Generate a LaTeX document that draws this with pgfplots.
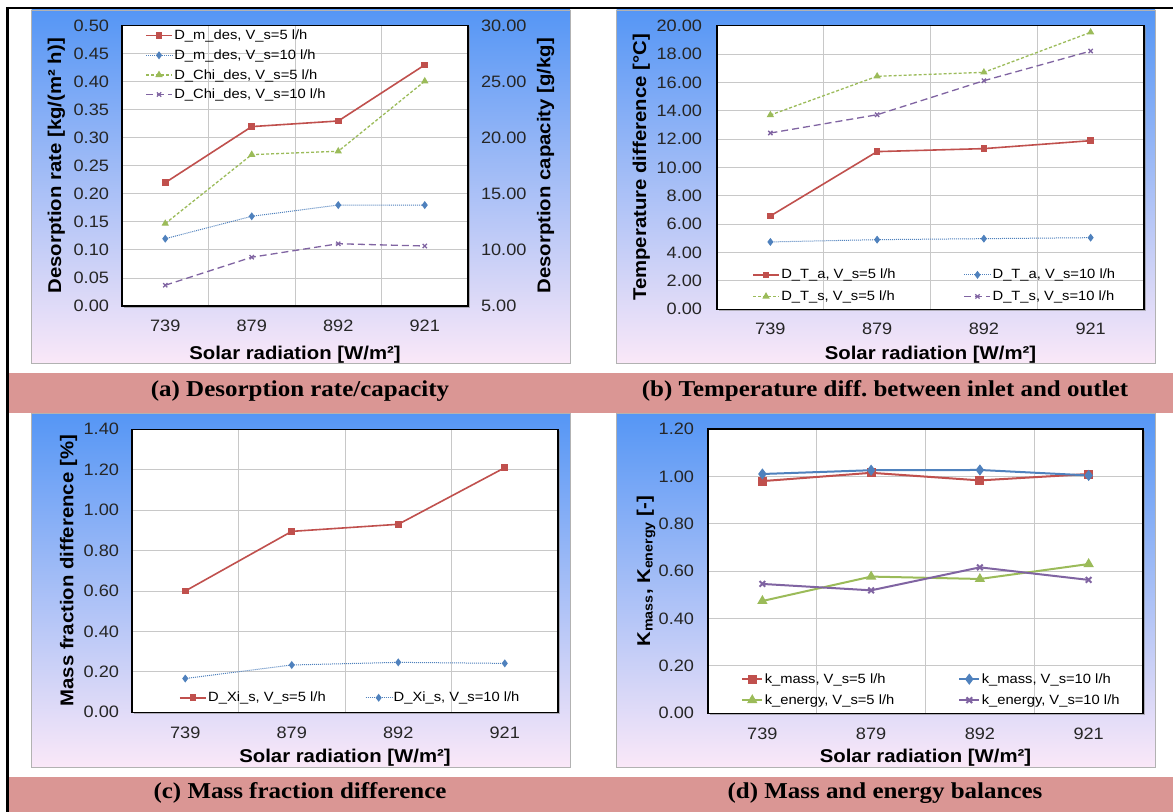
\documentclass[border=0pt]{standalone}
\usepackage{pgfplots}
\pgfplotsset{compat=1.18}
\usepackage{fontspec}
\setmainfont{Liberation Sans}[FakeStretch=1.1]
\newfontfamily\capfont{Liberation Serif}[FakeStretch=1.1]
\usetikzlibrary{shadows}

\definecolor{exred}{HTML}{C0504D}
\definecolor{exblue}{HTML}{4F81BD}
\definecolor{exgreen}{HTML}{9BBB59}
\definecolor{expurple}{HTML}{8064A2}
\definecolor{cappink}{HTML}{DA9694}
\definecolor{bgtop}{RGB}{85,150,245}
\definecolor{bgmid}{RGB}{175,204,245}
\definecolor{bgbot}{RGB}{250,232,248}
\definecolor{gridc}{RGB}{200,200,200}

\newcommand\tickfont{\fontsize{16.5bp}{19bp}\selectfont}
\newcommand\labfont{\bfseries\fontsize{18.5bp}{22bp}\selectfont}
\newcommand\legfont{\fontsize{13.4bp}{15bp}\selectfont}
\newcommand\capf{\capfont\bfseries\fontsize{22.7bp}{26bp}\selectfont}

\pgfplotsset{
  excel/.style={
    scale only axis,
    xmin=-0.5, xmax=3.5, ymin=0,
    xtick={0,1,2,3},
    xticklabels={739,879,892,921},
    minor xtick={0.5,1.5,2.5},
    xminorgrids=true, ymajorgrids=true,
    minor grid style={gridc, line width=0.9bp},
    major grid style={gridc, line width=0.9bp},
    major tick length=0pt, minor tick length=0pt,
    axis line style={black, line width=1.4bp},
    tick label style={font=\tickfont, text=black!85},
    label style={font=\labfont},
    /pgf/number format/assume math mode=true,
    yticklabel style={/pgf/number format/.cd, fixed, fixed zerofill, precision=2},
    legend style={draw=none, fill=none, font=\legfont, inner sep=0pt,
      nodes={inner xsep=1.5bp, inner ysep=4.2bp}},
    legend cell align=left,
    axis background/.style={fill=white, drop shadow={shadow xshift=1.8bp, shadow yshift=-1.8bp, fill=black!45, opacity=0.6}},
    legend image code/.code={\draw[mark repeat=2,mark phase=2,##1] plot coordinates {(0bp,0bp) (13bp,0bp) (26bp,0bp)};},
  },
  sred/.style={color=exred, line width=1.6bp, mark=square*, mark size=2.5bp, mark options={solid}},
  sblue/.style={color=exblue, line width=1bp, densely dotted, mark=diamond*, mark size=3.2bp, mark options={solid}},
  sgreen/.style={color=exgreen, line width=1.3bp, dash pattern=on 3bp off 2bp, mark=triangle*, mark size=3bp, mark options={solid}},
  spurple/.style={color=expurple, line width=1.3bp, dash pattern=on 7bp off 4bp, mark=x, mark size=3bp, mark options={solid}},
  dred/.style={color=exred, line width=2bp, mark=square*, mark size=3.5bp},
  dblue/.style={color=exblue, line width=2bp, mark=diamond*, mark size=4bp},
  dgreen/.style={color=exgreen, line width=2bp, mark=triangle*, mark size=4bp},
  dpurple/.style={color=expurple, line width=2bp, mark=x, mark size=4bp},
}

\begin{document}
\begin{tikzpicture}[x=1bp,y=1bp]
\useasboundingbox (0,0) rectangle (1173,812);
\fill[white] (0,0) rectangle (1173,812);
% chart areas
\shade[top color=bgtop, middle color=bgmid, bottom color=bgbot] (31.6,449) rectangle (570,802);
\shade[top color=bgtop, middle color=bgmid, bottom color=bgbot] (616.5,449) rectangle (1155,802);
\shade[top color=bgtop, middle color=bgmid, bottom color=bgbot] (31.6,45) rectangle (570,399);
\shade[top color=bgtop, middle color=bgmid, bottom color=bgbot] (616.5,45) rectangle (1155,399);
\draw[gray!60, line width=0.6bp] (31.6,449) rectangle (570,802);
\draw[gray!60, line width=0.6bp] (616.5,449) rectangle (1155,802);
\draw[gray!60, line width=0.6bp] (31.6,45) rectangle (570,399);
\draw[gray!60, line width=0.6bp] (616.5,45) rectangle (1155,399);
% caption bars
\fill[cappink] (8.5,399) rectangle (1173,439);
\fill[cappink] (8.5,0) rectangle (1173,35);
\draw[line width=1.5bp] (7,804) -- (1173,804);
\draw[line width=2.2bp] (7.5,805) -- (7.5,0);
\node[anchor=base, font=\capf, inner sep=0pt] at (300,415) {(a) Desorption rate/capacity};
\node[anchor=base, font=\capf, inner sep=0pt] at (885,415) {(b) Temperature diff.\ between inlet and outlet};
\node[anchor=base, font=\capf, inner sep=0pt] at (300,13) {(c) Mass fraction difference};
\node[anchor=base, font=\capf, inner sep=0pt] at (885,13) {(d) Mass and energy balances};

% ---------------- (a) left axis
\begin{axis}[excel, at={(122bp,506bp)}, anchor=south west, width=346bp, height=280.3bp,
  ymax=0.5, ytick={0,0.05,0.1,0.15,0.2,0.25,0.3,0.35,0.4,0.45,0.5},
  xticklabel shift=10.5bp, yticklabel shift=9.5bp,
  xlabel={Solar radiation [W/m²]}, xlabel style={at={(axis description cs:0.5,-0.175)}, anchor=center},
  ylabel={Desorption rate [kg/(m² h)]}, ylabel style={at={(axis description cs:-0.19,0.5)}, anchor=center},
]
\addplot[sred] coordinates {(0,0.22) (1,0.32) (2,0.33) (3,0.43)};
\addplot[sblue] coordinates {(0,0.12) (1,0.16) (2,0.18) (3,0.18)};
\end{axis}
% ---------------- (a) right axis
\begin{axis}[scale only axis, at={(122bp,506bp)}, anchor=south west, width=346bp, height=280.3bp,
  xmin=-0.5, xmax=3.5, ymin=5, ymax=30, ytick={5,10,15,20,25,30},
  axis x line=none, axis y line*=right, axis line style={black, line width=1.4bp},
  major tick length=0pt,
  tick label style={font=\tickfont, text=black!85},
  label style={font=\labfont},
  /pgf/number format/assume math mode=true,
  yticklabel style={/pgf/number format/.cd, fixed, fixed zerofill, precision=2},
  yticklabel shift=9.5bp,
  ylabel={Desorption capacity [g/kg]}, ylabel style={at={(axis description cs:1.224,0.5)}, anchor=center},
  legend style={draw=none, fill=none, font=\legfont, inner sep=0pt,
      nodes={inner xsep=1.5bp, inner ysep=4.2bp},
      at={(axis description cs:0.0665,1)}, anchor=north west},
  legend cell align=left,
  legend image code/.code={\draw[mark repeat=2,mark phase=2,#1] plot coordinates {(0bp,0bp) (13bp,0bp) (26bp,0bp)};},
]
\addlegendimage{sred}\addlegendentry{D\_m\_des, V\_s=5 l/h}
\addlegendimage{sblue}\addlegendentry{D\_m\_des, V\_s=10 l/h}
\addplot[sgreen] coordinates {(0,12.35) (1,18.5) (2,18.8) (3,25.05)};
\addlegendentry{D\_Chi\_des, V\_s=5 l/h}
\addplot[spurple] coordinates {(0,6.85) (1,9.35) (2,10.55) (3,10.35)};
\addlegendentry{D\_Chi\_des, V\_s=10 l/h}
\end{axis}

% ---------------- (b)
\begin{axis}[excel, at={(717bp,502.7bp)}, anchor=south west, width=427bp, height=283.6bp,
  ymax=20, ytick={0,2,4,6,8,10,12,14,16,18,20},
  xticklabel shift=10.5bp, yticklabel shift=11.5bp,
  xlabel={Solar radiation [W/m²]}, xlabel style={at={(axis description cs:0.5,-0.161)}, anchor=center},
  ylabel={Temperature difference [°C]}, ylabel style={at={(axis description cs:-0.177,0.5)}, anchor=center},
  legend columns=2,
  legend style={at={(axis description cs:0.082,0.01)}, anchor=south west, row sep=2bp},
]
\addplot[sred] coordinates {(0,6.58) (1,11.12) (2,11.33) (3,11.89)};
\addlegendentry{\makebox[181bp][l]{D\_T\_a, V\_s=5 l/h}}
\addplot[sblue] coordinates {(0,4.75) (1,4.91) (2,4.98) (3,5.05)};
\addlegendentry{D\_T\_a, V\_s=10 l/h}
\addplot[sgreen] coordinates {(0,13.70) (1,16.43) (2,16.71) (3,19.53)};
\addlegendentry{\makebox[181bp][l]{D\_T\_s, V\_s=5 l/h}}
\addplot[spurple] coordinates {(0,12.43) (1,13.72) (2,16.12) (3,18.21)};
\addlegendentry{D\_T\_s, V\_s=10 l/h}
\end{axis}

% ---------------- (c)
\begin{axis}[excel, at={(132bp,99.7bp)}, anchor=south west, width=426bp, height=283bp,
  ymax=1.4, ytick={0,0.2,0.4,0.6,0.8,1.0,1.2,1.4},
  xticklabel shift=11.3bp, yticklabel shift=9.5bp,
  xlabel={Solar radiation [W/m²]}, xlabel style={at={(axis description cs:0.5,-0.162)}, anchor=center},
  ylabel={Mass fraction difference [\%]}, ylabel style={at={(axis description cs:-0.149,0.5)}, anchor=center},
  legend columns=2,
  legend style={at={(axis description cs:0.110,0.016)}, anchor=south west},
]
\addplot[sred] coordinates {(0,0.60) (1,0.895) (2,0.93) (3,1.21)};
\addlegendentry{\makebox[155.5bp][l]{D\_Xi\_s, V\_s=5 l/h}}
\addplot[sblue] coordinates {(0,0.167) (1,0.234) (2,0.247) (3,0.242)};
\addlegendentry{D\_Xi\_s, V\_s=10 l/h}
\end{axis}

% ---------------- (d)
\begin{axis}[excel, at={(708bp,98.7bp)}, anchor=south west, width=435bp, height=284.3bp,
  ymax=1.2, ytick={0,0.2,0.4,0.6,0.8,1.0,1.2},
  xticklabel shift=11.3bp, yticklabel shift=10.5bp,
  xlabel={Solar radiation [W/m²]}, xlabel style={at={(axis description cs:0.5,-0.158)}, anchor=center},
  ylabel={K\textsubscript{mass}, K\textsubscript{energy} [-]}, ylabel style={at={(axis description cs:-0.1425,0.5)}, anchor=center},
  legend columns=2,
  legend style={at={(axis description cs:0.076,0.011)}, anchor=south west, row sep=1.4bp},
  legend image code/.code={\draw[mark repeat=2,mark phase=2,#1] plot coordinates {(0bp,0bp) (10bp,0bp) (20bp,0bp)};},
]
\addplot[dred] coordinates {(0,0.98) (1,1.015) (2,0.983) (3,1.01)};
\addlegendentry{\makebox[192bp][l]{k\_mass, V\_s=5 l/h}}
\addplot[dblue] coordinates {(0,1.01) (1,1.026) (2,1.027) (3,1.004)};
\addlegendentry{k\_mass, V\_s=10 l/h}
\addplot[dgreen] coordinates {(0,0.474) (1,0.577) (2,0.567) (3,0.630)};
\addlegendentry{\makebox[192bp][l]{k\_energy, V\_s=5 l/h}}
\addplot[dpurple] coordinates {(0,0.546) (1,0.519) (2,0.616) (3,0.563)};
\addlegendentry{k\_energy, V\_s=10 l/h}
\end{axis}
\end{tikzpicture}
\end{document}
